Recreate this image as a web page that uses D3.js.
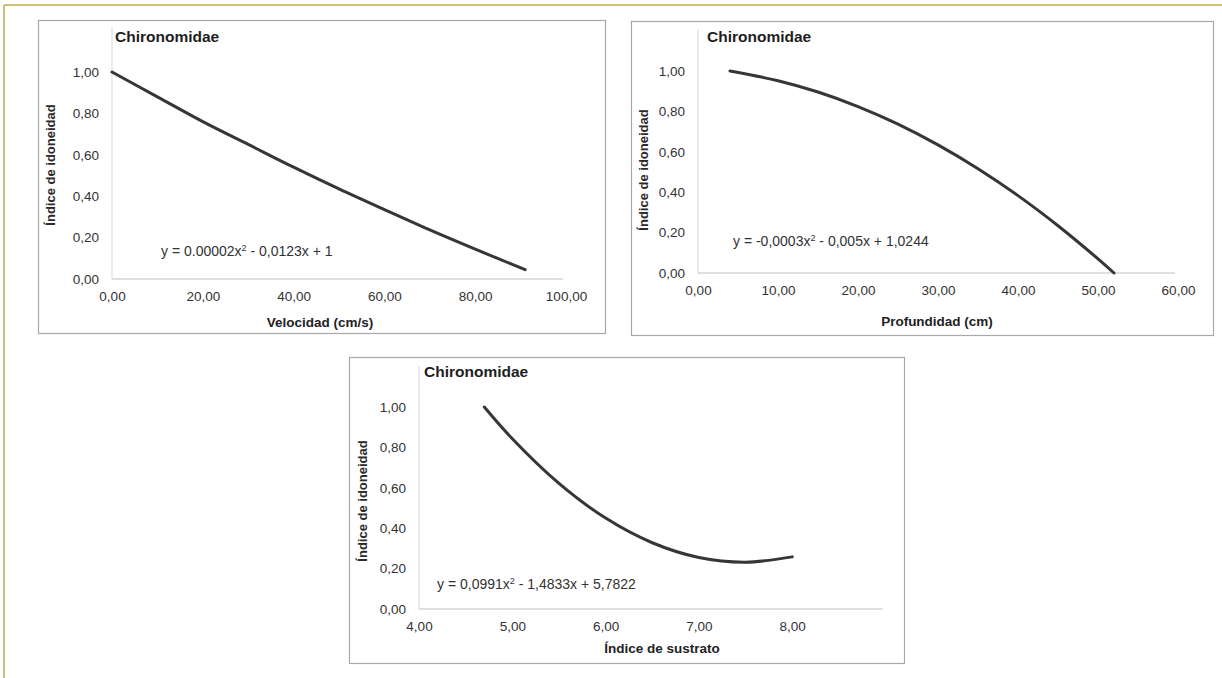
<!DOCTYPE html>
<html>
<head>
<meta charset="utf-8">
<script src="https://d3js.org/d3.v7.min.js"></script>
<style>
  html, body { margin: 0; padding: 0; background: #ffffff; }
  svg { display: block; font-family: "Liberation Sans", Arial, sans-serif; }
</style>
</head>
<body>
<svg id="chart" width="1222" height="678"></svg>
<script>
// ---------- data ----------
const chartTitle = "Chironomidae";
const yAxisTitle = "Índice de idoneidad";
const yTicks = [0, 0.2, 0.4, 0.6, 0.8, 1.0];

// Panel 1 - velocidad
const velX = [0, 10, 20, 30, 40, 50, 60, 70, 80, 91];
const velY = [1.00, 0.88, 0.76, 0.65, 0.54, 0.435, 0.335, 0.237, 0.144, 0.045];
const velTicks = [0, 20, 40, 60, 80, 100];
const velTitle = "Velocidad (cm/s)";
const velEq = ["y = 0.00002x", "2", " - 0,0123x + 1"];

// Panel 2 - profundidad
const profX = [4, 10, 15, 20, 25, 30, 35, 40, 45, 50, 52];
const profY = [1.00, 0.952, 0.896, 0.824, 0.737, 0.634, 0.516, 0.383, 0.234, 0.070, 0.00];
const profTicks = [0, 10, 20, 30, 40, 50, 60];
const profTitle = "Profundidad (cm)";
const profEq = ["y = -0,0003x", "2", " - 0,005x + 1,0244"];

// Panel 3 - sustrato
const sustX = [4.7, 5.0, 5.5, 6.0, 6.5, 7.0, 7.5, 8.0];
const sustY = [1.00, 0.843, 0.622, 0.45, 0.328, 0.255, 0.232, 0.258];
const sustTicks = [4, 5, 6, 7, 8];
const sustTitle = "Índice de sustrato";
const sustEq = ["y = 0,0991x", "2", " - 1,4833x + 5,7822"];

// ---------- drawing ----------
const svg = d3.select("#chart");
const fmt = d => d3.format(".2f")(d).replace(".", ",");

// outer olive frame (top and left edges visible)
svg.append("line").attr("x1", 4).attr("y1", 5).attr("x2", 1222).attr("y2", 5)
  .attr("stroke", "#bcab4c").attr("stroke-width", 1.5);
svg.append("line").attr("x1", 4).attr("y1", 5).attr("x2", 4).attr("y2", 678)
  .attr("stroke", "#bcab4c").attr("stroke-width", 1.5);

const panels = [
  { xs: velX, ys: velY, ticks: velTicks, xTitle: velTitle, eq: velEq,
    box: [38, 20, 605, 333], xDom: [0, 100], xRange: [112, 566], yRange: [279, 72],
    yTop: 27, title: [115, 37], eqPos: [161, 251], xTitlePos: [320, 322], yTitlePos: [50, 165] },
  { xs: profX, ys: profY, ticks: profTicks, xTitle: profTitle, eq: profEq,
    box: [631, 21, 1213, 335], xDom: [0, 60], xRange: [698, 1178], yRange: [273, 71],
    yTop: 30, title: [707, 37], eqPos: [733, 241], xTitlePos: [937, 321], yTitlePos: [643, 170] },
  { xs: sustX, ys: sustY, ticks: sustTicks, xTitle: sustTitle, eq: sustEq,
    box: [349, 357, 904, 663], xDom: [4, 9], xRange: [419, 885.5], yRange: [609, 407],
    yTop: 366, title: [424, 372], eqPos: [437, 584], xTitlePos: [662, 648], yTitlePos: [362, 501] }
];

panels.forEach(p => {
  const g = svg.append("g");
  const [bx0, by0, bx1, by1] = p.box;
  g.append("rect").attr("x", bx0 + 0.5).attr("y", by0 + 0.5)
    .attr("width", bx1 - bx0).attr("height", by1 - by0)
    .attr("fill", "#ffffff").attr("stroke", "#a8a8a8").attr("stroke-width", 1.2);

  const x = d3.scaleLinear().domain(p.xDom).range(p.xRange);
  const y = d3.scaleLinear().domain([0, 1]).range(p.yRange);

  // plot-area axis lines
  g.append("line").attr("x1", x(p.xDom[0])).attr("x2", x(p.xDom[1]) - 3)
    .attr("y1", y(0)).attr("y2", y(0)).attr("stroke", "#d4d4d4").attr("stroke-width", 1.5);
  g.append("line").attr("x1", x(p.xDom[0])).attr("x2", x(p.xDom[0]))
    .attr("y1", p.yTop).attr("y2", y(0)).attr("stroke", "#dcdcdc").attr("stroke-width", 1.2);

  // axes
  const xa = g.append("g").attr("transform", `translate(0,${y(0)})`)
    .call(d3.axisBottom(x).tickValues(p.ticks).tickSize(0).tickPadding(12).tickFormat(fmt));
  const ya = g.append("g").attr("transform", `translate(${x(p.xDom[0])},0)`)
    .call(d3.axisLeft(y).tickValues(yTicks).tickSize(0).tickPadding(13).tickFormat(fmt));
  [xa, ya].forEach(a => {
    a.select(".domain").remove();
    a.selectAll("text").attr("font-size", 13.5).attr("fill", "#333333")
      .attr("font-family", "'Liberation Sans', Arial, sans-serif");
  });

  // curve
  const line = d3.line().x((d, i) => x(p.xs[i])).y((d, i) => y(p.ys[i])).curve(d3.curveCatmullRom);
  g.append("path").datum(p.ys).attr("d", line)
    .attr("fill", "none").attr("stroke", "#363636").attr("stroke-width", 3)
    .attr("stroke-linecap", "round");

  // chart title
  g.append("text").attr("x", p.title[0]).attr("y", p.title[1] + 5)
    .attr("font-size", 15.5).attr("font-weight", "bold").attr("fill", "#1e1e1e")
    .text(chartTitle);

  // equation
  const eq = g.append("text").attr("x", p.eqPos[0]).attr("y", p.eqPos[1] + 5)
    .attr("font-size", 14).attr("fill", "#333333");
  eq.append("tspan").text(p.eq[0]);
  eq.append("tspan").attr("dy", -5).attr("font-size", 9).text(p.eq[1]);
  eq.append("tspan").attr("dy", 5).text(p.eq[2]);

  // x axis title
  g.append("text").attr("x", p.xTitlePos[0]).attr("y", p.xTitlePos[1] + 5)
    .attr("text-anchor", "middle").attr("font-size", 13.5).attr("font-weight", "bold")
    .attr("fill", "#222222").text(p.xTitle);

  // y axis title
  g.append("text")
    .attr("transform", `translate(${p.yTitlePos[0] + 5},${p.yTitlePos[1]}) rotate(-90)`)
    .attr("text-anchor", "middle").attr("font-size", 13).attr("fill", "#2a2a2a")
    .attr("font-weight", 600).text(yAxisTitle);
});
</script>
</body>
</html>
